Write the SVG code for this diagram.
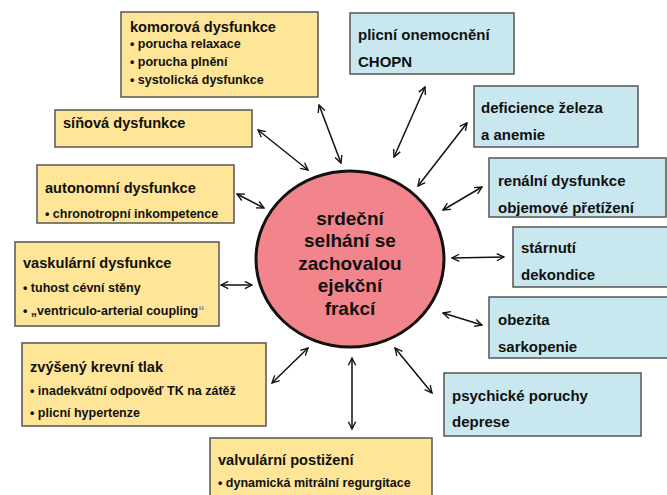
<svg xmlns="http://www.w3.org/2000/svg" width="667" height="495" viewBox="0 0 667 495">
<style>
.y{fill:#FEE597;stroke:#555;stroke-width:1.5}
.b{fill:#C9E7EF;stroke:#555;stroke-width:1.5}
text{font-family:"Liberation Sans",Arial,sans-serif;font-weight:bold;fill:#111}
.t{font-size:14.6px}
.s{font-size:12.5px}
.r{font-size:15px}
.c{font-size:19px;text-anchor:middle}
.a{stroke:#111;stroke-width:1.5;fill:none;marker-start:url(#h);marker-end:url(#h)}
</style>
<defs>
<marker id="h" viewBox="0 0 10 10" refX="9" refY="5" markerWidth="9" markerHeight="9" markerUnits="userSpaceOnUse" orient="auto-start-reverse">
<path d="M1,1 L9,5 L1,9" fill="none" stroke="#111" stroke-width="1.5"/>
</marker>
</defs>
<rect width="667" height="495" fill="#fff"/>
<g id="connectors">
<line class="a" x1="319" y1="105" x2="341" y2="163"/>
<line class="a" x1="258" y1="130" x2="308" y2="170"/>
<line class="a" x1="425" y1="87" x2="394" y2="157"/>
<line class="a" x1="467" y1="123" x2="418" y2="186"/>
<line class="a" x1="237" y1="194" x2="264" y2="208"/>
<line class="a" x1="482" y1="187" x2="443" y2="210"/>
<line class="a" x1="221" y1="285" x2="252" y2="285"/>
<line class="a" x1="452" y1="258" x2="504" y2="257"/>
<line class="a" x1="443" y1="313" x2="482" y2="325"/>
<line class="a" x1="308" y1="348" x2="272" y2="383"/>
<line class="a" x1="352" y1="358" x2="352" y2="429"/>
<line class="a" x1="395" y1="348" x2="432" y2="393"/>
</g>
<g id="center">
<ellipse cx="350" cy="259" rx="94" ry="88" fill="#F2848C" stroke="#111" stroke-width="3"/>
<text class="c" x="350" y="225">srdeční</text>
<text class="c" x="350" y="247">selhání se</text>
<text class="c" x="350" y="270">zachovalou</text>
<text class="c" x="350" y="292">ejekční</text>
<text class="c" x="350" y="315">frakcí</text>
</g>
<g id="komorova">
<rect class="y" x="121" y="12" width="197" height="85"/>
<text class="t" x="130" y="32">komorová dysfunkce</text>
<text class="s" x="130" y="48">• porucha relaxace</text>
<text class="s" x="130" y="66">• porucha plnění</text>
<text class="s" x="130" y="84">• systolická dysfunkce</text>
</g>
<g id="sinova">
<rect class="y" x="55" y="110" width="197" height="37"/>
<text class="t" x="63" y="128">síňová dysfunkce</text>
</g>
<g id="autonomni">
<rect class="y" x="37" y="165" width="197" height="58"/>
<text class="t" x="45" y="193">autonomní dysfunkce</text>
<text class="s" x="45" y="218">• chronotropní inkompetence</text>
</g>
<g id="vaskularni">
<rect class="y" x="15" y="242" width="204" height="84"/>
<text class="t" x="23" y="268">vaskulární dysfunkce</text>
<text class="s" x="23" y="292">• tuhost cévní stěny</text>
<text class="s" x="23" y="315">• „ventriculo-arterial coupling<tspan fill="#6F8FC8">“</tspan></text>
</g>
<g id="tlak">
<rect class="y" x="22" y="343" width="244" height="83"/>
<text class="t" x="30" y="372">zvýšený krevní tlak</text>
<text class="s" x="30" y="395">• inadekvátní odpověď TK na zátěž</text>
<text class="s" x="30" y="417">• plicní hypertenze</text>
</g>
<g id="valvularni">
<rect class="y" x="210" y="438" width="222" height="65"/>
<text class="t" x="218" y="465">valvulární postižení</text>
<text class="s" x="218" y="487">• dynamická mitrální regurgitace</text>
</g>
<g id="plicni">
<rect class="b" x="350" y="13" width="164" height="61"/>
<text class="r" x="358" y="40">plicní onemocnění</text>
<text class="r" x="358" y="67">CHOPN</text>
</g>
<g id="deficience">
<rect class="b" x="474" y="86" width="164" height="61"/>
<text class="r" x="481" y="113">deficience železa</text>
<text class="r" x="481" y="140">a anemie</text>
</g>
<g id="renalni">
<rect class="b" x="489" y="158" width="177" height="59"/>
<text class="r" x="498" y="186">renální dysfunkce</text>
<text class="r" x="498" y="213">objemové přetížení</text>
</g>
<g id="starnuti">
<rect class="b" x="513" y="227" width="160" height="60"/>
<text class="r" x="521" y="253">stárnutí</text>
<text class="r" x="521" y="280">dekondice</text>
</g>
<g id="obezita">
<rect class="b" x="489" y="297" width="184" height="61"/>
<text class="r" x="498" y="325">obezita</text>
<text class="r" x="498" y="352">sarkopenie</text>
</g>
<g id="psychicke">
<rect class="b" x="444" y="373" width="197" height="63"/>
<text class="r" x="452" y="401">psychické poruchy</text>
<text class="r" x="452" y="427">deprese</text>
</g>
</svg>
